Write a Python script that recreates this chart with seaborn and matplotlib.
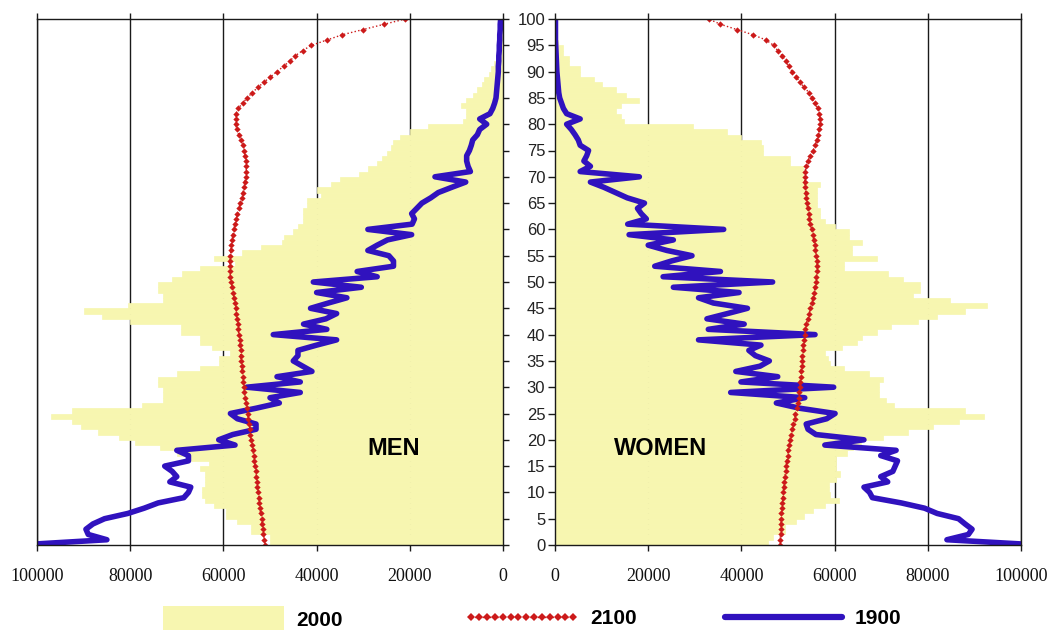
import matplotlib
matplotlib.use('Agg')
import matplotlib.pyplot as plt
import seaborn as sns
import pandas as pd
from matplotlib.patches import Patch
from matplotlib.lines import Line2D

# ages 0..100, one value per year of age
ages = list(range(0, 101))

men_2000 = [50000, 50000, 54000, 54000, 57000, 59500, 59500, 62000, 64000, 64500,
            64500, 64000, 64000, 64000, 65000, 63000, 67000, 70000, 73500, 79000,
            82500, 87000, 90500, 92500, 97000, 92500, 77500, 73000, 73000, 73000,
            74000, 74000, 70000, 65000, 61000, 61000, 58500, 62500, 65000, 65000,
            69000, 69000, 80000, 86000, 90000, 80500, 73000, 73000, 74000, 74000,
            71000, 68800, 65000, 57500, 62000, 56000, 52000, 47500, 47000, 45000,
            44000, 43000, 43000, 43000, 42000, 42000, 39000, 40000, 37000, 35000,
            31000, 29000, 27000, 26000, 25000, 24000, 23500, 22000, 20000, 16000,
            8500, 8000, 8000, 9000, 8000, 6500, 5500, 4500, 4000, 3000,
            2500, 2000, 1500, 1200, 900, 600, 400, 300, 200, 100, 100]

men_1900 = [104000, 85000, 89000, 89500, 88000, 85500, 80500, 77000, 74000, 68500,
            67500, 67000, 71500, 70000, 71000, 72600, 67500, 67500, 70000, 57500,
            61000, 58000, 53000, 53000, 57000, 58500, 53000, 48000, 50000, 43500,
            55000, 43500, 48500, 41000, 43000, 45000, 44000, 44000, 40000, 35700,
            49300, 37800, 42800, 38000, 35700, 41300, 37500, 33500, 40000, 30400,
            40700, 27000, 31300, 23500, 23500, 24500, 29000, 27000, 24800, 19600,
            29000, 19500, 19000, 19600, 18500, 17400, 15500, 13900, 11000, 8000,
            14600, 7000, 7500, 7800, 7800, 7200, 6800, 6500, 5500, 5000,
            3500, 5000, 2800, 2200, 1800, 1500, 1400, 1300, 1200, 1100,
            1000, 1000, 900, 900, 800, 800, 700, 700, 600, 600, 500]

men_2100 = [51100, 51200, 51400, 51500, 51700, 51800, 52000, 52200, 52300, 52400,
            52600, 52700, 52800, 52900, 53100, 53200, 53400, 53500, 53700, 53900,
            54000, 54200, 54300, 54500, 54700, 54800, 55000, 55100, 55300, 55500,
            55600, 55700, 55800, 56000, 56100, 56200, 56300, 56300, 56400, 56500,
            56700, 56800, 56900, 57000, 57200, 57300, 57500, 57700, 57900, 58100,
            58300, 58500, 58600, 58600, 58600, 58500, 58400, 58300, 58100, 58000,
            57800, 57500, 57200, 57000, 56700, 56400, 56100, 55800, 55600, 55400,
            55200, 55100, 55100, 55200, 55300, 55500, 55800, 56200, 56700, 57100,
            57400, 57400, 57300, 56800, 55900, 54900, 53800, 52600, 51300, 49900,
            48500, 47100, 45800, 44600, 43000, 41100, 37800, 34500, 30000, 25500, 21000]

women_2000 = [45700, 46700, 49300, 49300, 51800, 53500, 55400, 58000, 60900, 59100,
              58700, 58700, 60300, 61200, 60400, 60400, 60400, 62700, 64000, 65600,
              70300, 75700, 81100, 86600, 92000, 88000, 72800, 71000, 69600, 69600,
              69600, 70300, 67400, 62000, 59100, 58500, 58000, 61600, 64800, 65900,
              69200, 72100, 78000, 81900, 88000, 92800, 84800, 76800, 78300, 78300,
              74600, 71400, 62000, 62000, 69200, 63800, 63800, 65900, 63000, 63000,
              60000, 58000, 56900, 56900, 56200, 56200, 56200, 56200, 56900, 53300,
              53300, 53300, 50400, 50400, 44600, 44600, 44200, 40000, 37000, 29700,
              14900, 14100, 13000, 14100, 18100, 15200, 13000, 10100, 8300, 5400,
              5400, 2900, 2900, 1800, 1800, 720, 500, 300, 200, 100, 100]

women_1900 = [104000, 84100, 88700, 89500, 88000, 86600, 82000, 79300, 74300, 68100,
              67500, 66300, 71400, 69900, 72500, 73000, 73500, 69900, 73200, 57900,
              66300, 56000, 54300, 53900, 58300, 60100, 52500, 47500, 53600, 37700,
              59800, 39900, 47800, 38800, 44000, 46000, 43000, 41600, 44200, 30800,
              55800, 32900, 40600, 32600, 37000, 41300, 34000, 30800, 39500, 25400,
              46700, 23200, 35500, 21400, 25000, 29400, 24000, 20000, 25400, 15900,
              36200, 15600, 19600, 18500, 17700, 19200, 15500, 13000, 10500, 7600,
              18100, 5400, 7600, 6200, 6800, 7200, 5400, 5000, 4300, 3500,
              2500, 5400, 2500, 1800, 1400, 1000, 800, 700, 600, 500,
              400, 350, 300, 250, 200, 150, 100, 100, 100, 100, 100]

women_2100 = [48300, 48300, 48400, 48400, 48500, 48500, 48600, 48700, 48800, 48900,
              48900, 49100, 49200, 49300, 49500, 49600, 49700, 49900, 50000, 50200,
              50400, 50600, 50900, 51100, 51400, 51600, 51900, 52100, 52300, 52400,
              52500, 52600, 52700, 52800, 52900, 53000, 53100, 53200, 53300, 53400,
              53600, 53700, 53900, 54200, 54500, 54800, 55100, 55400, 55600, 55800,
              56000, 56100, 56200, 56200, 56200, 56100, 55900, 55700, 55500, 55300,
              55100, 54800, 54600, 54400, 54200, 54000, 53900, 53800, 53700, 53600,
              53600, 53700, 53800, 54200, 54800, 55400, 55800, 56200, 56500, 56700,
              56800, 56900, 56700, 56400, 55800, 55100, 54500, 53500, 52500, 51800,
              50900, 50200, 49500, 48800, 47800, 46900, 45300, 42500, 39000, 35500, 33000]

x_ticks = [0, 20000, 40000, 60000, 80000, 100000]
age_ticks = list(range(0, 101, 5))

YELLOW = '#F7F6B0'
BLUE = '#3012BE'
RED = '#CC1A1A'
INK = '#1a1a1a'

sns.set_style('white')
plt.rcParams['font.family'] = ['Liberation Sans', 'DejaVu Sans']

df = pd.DataFrame({
    'age': ages,
    'mid': [a + 0.5 for a in ages],
    'men_2000': men_2000, 'men_1900': men_1900, 'men_2100': men_2100,
    'women_2000': women_2000, 'women_1900': women_1900, 'women_2100': women_2100,
})

fig = plt.figure(figsize=(10.51, 6.3), dpi=100)
ax_m = fig.add_axes([37 / 1051, 85 / 630, 466 / 1051, 526 / 630])
ax_w = fig.add_axes([555 / 1051, 85 / 630, 466 / 1051, 526 / 630])

for ax, sex in [(ax_m, 'men'), (ax_w, 'women')]:
    sns.barplot(data=df, x=f'{sex}_2000', y='mid', orient='h', native_scale=True,
                width=1, color=YELLOW, saturation=1, errorbar=None,
                linewidth=0.5, edgecolor=YELLOW, ax=ax)
    sns.lineplot(data=df, x=f'{sex}_1900', y='age', orient='y', estimator=None,
                 sort=False, color=BLUE, linewidth=4, ax=ax)
    sns.lineplot(data=df, x=f'{sex}_2100', y='age', orient='y', estimator=None,
                 sort=False, color=RED, linewidth=1, linestyle=':', marker='D',
                 markersize=3.2, markeredgewidth=0, ax=ax)

    ax.set_ylim(0, 100)
    ax.set_xticks(x_ticks)
    ax.set_xticklabels([str(t) for t in x_ticks])
    ax.set_yticks(age_ticks)
    ax.set_xlabel('')
    ax.set_ylabel('')
    ax.grid(axis='x', color=INK, linewidth=1)
    ax.grid(axis='y', visible=False)
    ax.set_axisbelow(True)
    for sp in ax.spines.values():
        sp.set_visible(True)
        sp.set_color(INK)
        sp.set_linewidth(1)
    ax.tick_params(axis='x', top=True, bottom=True, direction='out', length=4.5,
                   width=1, color=INK, labelsize=13, pad=12, labelcolor='#111')
    for lab in ax.get_xticklabels():
        lab.set_fontfamily(['Liberation Serif', 'DejaVu Serif'])

ax_m.set_xlim(100000, 0)
ax_w.set_xlim(0, 100000)

ax_m.tick_params(axis='y', left=False, right=True, labelleft=False, labelright=False,
                 direction='out', length=4.5, width=1, color=INK)
ax_w.tick_params(axis='y', left=True, right=False, labelleft=True, direction='out',
                 length=5, width=1, color=INK, labelsize=12, pad=2, labelcolor='#222')

ax_m.text(23400, 18.3, 'MEN', ha='center', va='center', fontsize=17,
          fontweight='bold', color='black')
ax_w.text(22700, 18.3, 'WOMEN', ha='center', va='center', fontsize=17,
          fontweight='bold', color='black')

leg_font = {'family': ['Liberation Sans', 'DejaVu Sans'], 'weight': 'bold', 'size': 15}
y_leg = 1 - 619 / 630
fig.legend(handles=[Patch(facecolor=YELLOW, edgecolor='none')], labels=['2000'],
           loc='center left', bbox_to_anchor=(163 / 1051, y_leg), frameon=False,
           borderpad=0, borderaxespad=0, handlelength=5.8, handleheight=1.55,
           handletextpad=0.6, prop=leg_font, labelcolor='black')
fig.legend(handles=[Line2D([0], [0], color=RED, linewidth=1, linestyle=':', marker='D',
                           markersize=3.8, markeredgewidth=0)], labels=['2100'],
           loc='center left', bbox_to_anchor=(465 / 1051, y_leg), frameon=False,
           borderpad=0, borderaxespad=0, handlelength=5.5, numpoints=14,
           handletextpad=0.5, prop=leg_font, labelcolor='black')
fig.legend(handles=[Line2D([0], [0], color=BLUE, linewidth=4.5)], labels=['1900'],
           loc='center left', bbox_to_anchor=(725 / 1051, y_leg), frameon=False,
           borderpad=0, borderaxespad=0, handlelength=5.6, handletextpad=0.6,
           prop=leg_font, labelcolor='black')

fig.savefig('out.png', dpi=100)
